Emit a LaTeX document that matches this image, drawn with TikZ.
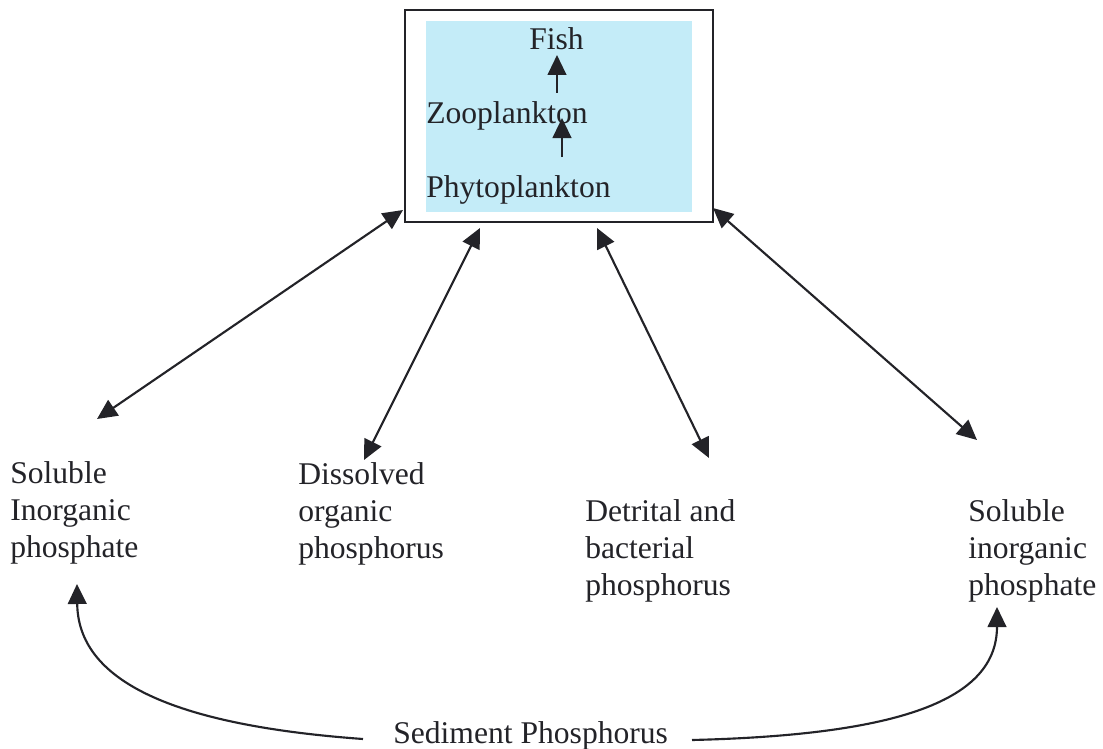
\documentclass[tikz,border=0pt]{standalone}
\usepackage{fontspec}
\setmainfont{Liberation Serif}
\usetikzlibrary{arrows.meta}
\definecolor{boxblue}{RGB}{196,236,248}
\definecolor{ink}{RGB}{35,35,40}
\tikzset{
  lbl/.style={inner sep=0pt, anchor=base west, align=left, text=ink,
    font=\fontsize{23.7pt}{27.75pt}\selectfont},
  conn/.style={draw=ink, line width=1.6pt},
  tip/.style={-{Triangle[length=15pt,width=14pt]}},
  dtip/.style={{Triangle[length=15pt,width=14pt]}-{Triangle[length=15pt,width=14pt]}},
}
\begin{document}
\begin{tikzpicture}[x=0.75pt,y=-0.75pt]
\useasboundingbox (0,0) rectangle (1103,749);
% box
\fill[boxblue] (426,21) rectangle (692,212);
\node[draw=ink, line width=1.5pt, minimum width=308*0.75pt, minimum height=212*0.75pt, inner sep=0pt] (box) at (559,116) {};
\node[lbl] (fish) at (529,50) {Fish};
\node[lbl] (zoo) at (426,123) {Zooplankton};
\node[lbl] (phyto) at (426,197) {Phytoplankton};
\coordinate (f1) at (557,93); \coordinate (f2) at (557,55);
\coordinate (z1) at (562,157); \coordinate (z2) at (562,118);
\draw[conn,tip] (f1) -- (f2);
\draw[conn,tip] (z1) -- (z2);
% bottom labels (base anchor = last line)
\node[lbl] (sip1) at (10,557) {Soluble\\Inorganic\\phosphate};
\node[lbl] (dop) at (298,558) {Dissolved\\organic\\phosphorus};
\node[lbl] (dbp) at (585,595) {Detrital and\\bacterial\\phosphorus};
\node[lbl] (sip2) at (968,595) {Soluble\\inorganic\\phosphate};
\node[lbl] (sed) at (393,743) {Sediment Phosphorus};
% double arrows
\coordinate (a1s) at (403,210); \coordinate (a1e) at (97,419);
\coordinate (a2s) at (480,228); \coordinate (a2e) at (364,460);
\coordinate (a3s) at (597,228); \coordinate (a3e) at (709,458);
\coordinate (a4s) at (713,208); \coordinate (a4e) at (977,440);
\draw[conn,dtip] (a1s) -- (a1e);
\draw[conn,dtip] (a2s) -- (a2e);
\draw[conn,dtip] (a3s) -- (a3e);
\draw[conn,dtip] (a4s) -- (a4e);
% curves
\coordinate (cl) at (363,739); \coordinate (cle) at (77,584);
\coordinate (cr) at (692,740); \coordinate (cre) at (997,607);
\draw[conn,tip] (cl) .. controls (170,725) and (78,680) .. (cle);
\draw[conn,tip] (cr) .. controls (900,735) and (997,700) .. (cre);
\end{tikzpicture}
\end{document}
